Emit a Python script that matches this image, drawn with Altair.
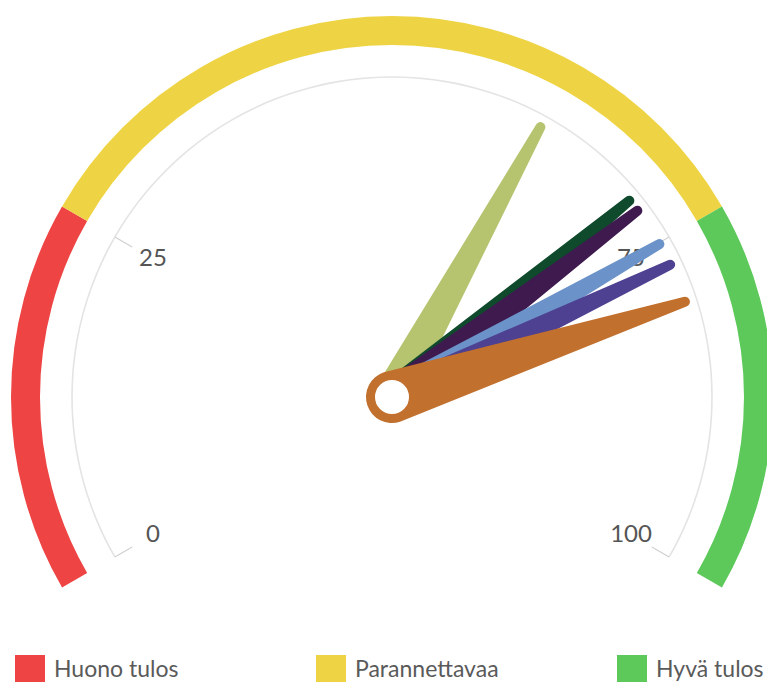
import math
import altair as alt
import pandas as pd

# ---------------- data ----------------
band_labels = ["Huono tulos", "Parannettavaa", "Hyvä tulos"]
band_start = [0, 25, 75]
band_end = [25, 75, 100]
band_colors = ["#ee4444", "#eed444", "#5cc95a"]

needle_values = [62.0, 71.0, 72.0, 75.1, 76.9, 80.0]
needle_colors = ["#b6c36f", "#0f4a2c", "#3e1a4f", "#6c93c9", "#4e4192", "#c1702e"]

tick_values = [0, 25, 75, 100]
tick_labels = ["0", "25", "75", "100"]

# ---------------- geometry / style ----------------
W, H = 759, 674
CX, CY = 384, 389            # gauge centre in view pixels
R_BAND_OUT, R_BAND_IN = 381, 352
R_GRID = 320
R_TICK_IN = 300
R_LABEL = 276
R_NEEDLE = 308
NEEDLE_BASE_W = [38, 34, 34, 32, 32, 52]
NEEDLE_TIP_W = 10
FONT = "Lato"

xs = alt.Scale(domain=[-CX, W - CX], nice=False, zero=False)
ys = alt.Scale(domain=[-(H - CY), CY], nice=False, zero=False)
theta_scale = alt.Scale(domain=[0, 100], range=[-2 * math.pi / 3, 2 * math.pi / 3])
ANG = "(datum.v / 100 * 240 - 120) * PI / 180"

cx = alt.X(datum=0, scale=xs, axis=None)
cy = alt.Y(datum=0, scale=ys, axis=None)

# bands
bands_df = pd.DataFrame({"label": band_labels, "start": band_start, "end": band_end})
bands = alt.Chart(bands_df).mark_arc(radius=R_BAND_OUT, radius2=R_BAND_IN).encode(
    theta=alt.Theta("start:Q", scale=theta_scale, stack=None),
    theta2="end:Q",
    color=alt.Color(
        "label:N",
        scale=alt.Scale(domain=band_labels, range=band_colors),
        legend=alt.Legend(
            title=None, orient="none", legendX=7, legendY=647, direction="horizontal",
            symbolType="square", symbolSize=900, symbolStrokeWidth=0, symbolOpacity=1,
            labelFont=FONT, labelFontSize=23, labelColor="#5a5a5a", labelOffset=9,
            labelLimit=400, columnPadding=118, gridAlign="all", padding=0, columns=3,
        ),
    ),
    x=cx, y=cy,
)

# grid circle
grid_df = pd.DataFrame({"start": [tick_values[0]], "end": [tick_values[-1]]})
grid = alt.Chart(grid_df).mark_arc(radius=R_GRID + 0.8, radius2=R_GRID - 0.8, color="#e4e4e4").encode(
    theta=alt.Theta("start:Q", scale=theta_scale, stack=None),
    theta2="end:Q",
    x=cx, y=cy,
)

# ticks
tick_df = pd.DataFrame({"v": tick_values, "label": tick_labels})
ticks = alt.Chart(tick_df).mark_rule(color="#d0d0d0", strokeWidth=1.2).transform_calculate(
    a=ANG,
    x1=f"{R_GRID} * sin(datum.a)", y1=f"{R_GRID} * cos(datum.a)",
    x2=f"{R_TICK_IN} * sin(datum.a)", y2=f"{R_TICK_IN} * cos(datum.a)",
).encode(
    x=alt.X("x1:Q", scale=xs, axis=None), y=alt.Y("y1:Q", scale=ys, axis=None),
    x2="x2:Q", y2="y2:Q",
)
labels = alt.Chart(tick_df).mark_text(
    font=FONT, fontSize=24, color="#555555", align="center", baseline="middle"
).transform_calculate(
    a=ANG, lx=f"{R_LABEL} * sin(datum.a)", ly=f"{R_LABEL} * cos(datum.a)",
).encode(
    x=alt.X("lx:Q", scale=xs, axis=None), y=alt.Y("ly:Q", scale=ys, axis=None),
    text="label:N",
)

# needles
rows = []
for i, (v, c) in enumerate(zip(needle_values, needle_colors)):
    rows.append({"idx": i, "v": v, "color": c, "r": 0, "w": NEEDLE_BASE_W[i]})
    rows.append({"idx": i, "v": v, "color": c, "r": R_NEEDLE, "w": NEEDLE_TIP_W})
needle_df = pd.DataFrame(rows)

needle_layers = []
for i in range(len(needle_values)):
    needle_layers.append(
        alt.Chart(needle_df).transform_filter(alt.datum.idx == i).transform_calculate(
            a=ANG, nx="datum.r * sin(datum.a)", ny="datum.r * cos(datum.a)",
        ).mark_trail().encode(
            x=alt.X("nx:Q", scale=xs, axis=None),
            y=alt.Y("ny:Q", scale=ys, axis=None),
            size=alt.Size("w:Q", scale=None, legend=None),
            color=alt.Color("color:N", scale=None),
            order="r:Q",
        )
    )

# pivot ring
ring = alt.Chart(pd.DataFrame({"k": [0]})).mark_arc(
    radius=21, theta=0, theta2=2 * math.pi, fill="white", stroke=needle_colors[-1], strokeWidth=8
).encode(x=cx, y=cy)

chart = alt.layer(bands, grid, ticks, labels, *needle_layers, ring).resolve_scale(
    color="independent"
).properties(
    width=W, height=H, padding=0, autosize=alt.AutoSizeParams(type="none")
).configure_view(stroke=None)

chart.save("out.html", embed_options={"renderer": "svg", "actions": False})
